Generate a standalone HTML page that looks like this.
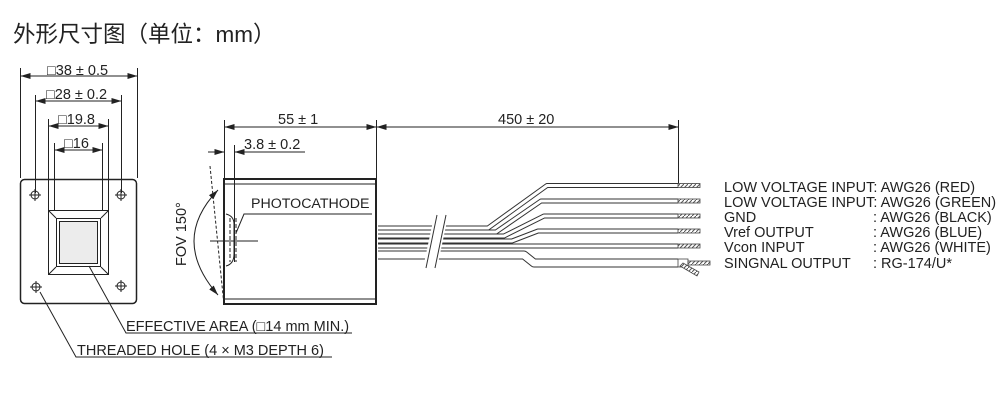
<!DOCTYPE html>
<html><head><meta charset="utf-8"><style>
body{margin:0;background:#fff;width:1000px;height:400px;overflow:hidden}
svg{display:block}
text{font-family:"Liberation Sans",Arial,sans-serif;fill:#222}
</style></head><body>
<svg width="1000" height="400" viewBox="0 0 1000 400" xmlns="http://www.w3.org/2000/svg">
<defs>
<marker id="a" viewBox="0 0 10 6" refX="10" refY="3" markerWidth="10" markerHeight="6" orient="auto-start-reverse" markerUnits="userSpaceOnUse"><path d="M0,0L10,3L0,6z" fill="#222"/></marker>
<pattern id="h" width="4" height="4" patternUnits="userSpaceOnUse"><rect width="4" height="4" fill="#fff"/><path d="M0,4L4,0" stroke="#555" stroke-width="1"/></pattern>
</defs>
<text x="13" y="42" style="font-family:'Liberation Sans','Noto Sans CJK SC',sans-serif;font-size:22.5px">外形尺寸图（单位：mm）</text>

<g stroke="#222" stroke-width="1" fill="none">
<path d="M20.5,68V178M137.5,68V178M35.5,95V193M121.5,95V193M48.5,119V210M108.5,119V210M54.5,143V210M102.5,143V210"/>
<path d="M20.5,76H137.5" marker-start="url(#a)" marker-end="url(#a)"/>
<path d="M35.5,101H121.5" marker-start="url(#a)" marker-end="url(#a)"/>
<path d="M48.5,126H108.5" marker-start="url(#a)" marker-end="url(#a)"/>
<path d="M54.5,150H102.5" marker-start="url(#a)" marker-end="url(#a)"/>
<rect x="20.5" y="179.5" width="116" height="124" rx="4" stroke-width="1.5"/>
<rect x="48.5" y="210.5" width="60" height="64"/>
<path d="M48.5,210.5L56,218M108.5,210.5L101,218M48.5,274.5L56,267M108.5,274.5L101,267"/>
<rect x="56.5" y="218.5" width="44" height="48"/>
<rect x="59.5" y="221.5" width="38" height="42" fill="#ececec"/>
<g>
<circle cx="35" cy="195" r="4"/><path d="M29,195h12M35,189v12"/>
<circle cx="121" cy="195" r="4"/><path d="M115,195h12M121,189v12"/>
<circle cx="36" cy="287" r="4"/><path d="M30,287h12M36,281v12"/>
<circle cx="121" cy="286" r="4"/><path d="M115,286h12M121,280v12"/>
</g>
<path d="M89,266L126,333H352"/>
<path d="M40,292L76,357H332"/>

<path d="M224.5,120V180M376.5,120V180M234.5,145V262M678.5,120V186"/>
<path d="M224.5,127H376.5" marker-start="url(#a)" marker-end="url(#a)"/>
<path d="M376.5,127H678.5" marker-start="url(#a)" marker-end="url(#a)"/>
<path d="M208,152H224.5" marker-end="url(#a)"/>
<path d="M234.5,152H305" marker-start="url(#a)"/>
<rect x="224" y="179" width="152" height="125" stroke-width="2"/>
<path d="M224,184H376M224,299H376"/>
<path d="M210,166L224,305" stroke-dasharray="3,2"/>
<path d="M218,190Q170,240 218,295" marker-start="url(#a)" marker-end="url(#a)"/>
<path d="M226,214q8,2 8,10v30q0,10-8,12"/>
<path d="M230,218v44M236,218v44" stroke-dasharray="4,2"/>
<path d="M210,241H258M234,225V258"/>
<path d="M236,233L244,214H372"/>
</g>

<g fill="none" stroke-linejoin="round">
<g stroke="#333" stroke-width="5">
<path d="M376,228H488L547,185.5H678"/>
<path d="M376,232H496L541,201H678"/>
<path d="M376,236H504L544,216H678"/>
<path d="M376,241H512L538,231H678"/>
<path d="M376,246H678"/>
</g>
<g stroke="#fff" stroke-width="3">
<path d="M376,228H488L547,185.5H678"/>
<path d="M376,232H496L541,201H678"/>
<path d="M376,236H504L544,216H678"/>
<path d="M376,241H512L538,231H678"/>
<path d="M376,246H678"/>
</g>
<path d="M376,255H524L534,263H678" stroke="#333" stroke-width="9"/>
<path d="M376,255H524L534,263H678" stroke="#fff" stroke-width="7"/>
</g>
<rect x="376" y="220" width="2" height="42" fill="#fff"/>
<path d="M376,180V304" stroke="#222" stroke-width="2"/>
<rect x="430" y="215" width="14" height="50" fill="#fff" transform="skewX(-12) translate(50,0)"/>
<path d="M437,215L426,268M446,215L435,268" stroke="#333"/>
<g fill="url(#h)" stroke="#444" stroke-width="0.8">
<rect x="678" y="183.5" width="22" height="4"/>
<rect x="678" y="199" width="22" height="4"/>
<rect x="678" y="214" width="22" height="4"/>
<rect x="678" y="229" width="22" height="4"/>
<rect x="678" y="244" width="22" height="4"/>
<rect x="678" y="259" width="10" height="8" fill="#fff"/>
<rect x="688" y="261" width="22" height="4"/>
<path d="M680,266L697,276L699,272L683,263z"/>
</g>

<g font-size="14.5">
<text x="47" y="75">□38 ± 0.5</text>
<text x="46" y="99">□28 ± 0.2</text>
<text x="58" y="124">□19.8</text>
<text x="64" y="148">□16</text>
<text x="126" y="331">EFFECTIVE AREA (□14 mm MIN.)</text>
<text x="77" y="355">THREADED HOLE (4 × M3 DEPTH 6)</text>
<text x="278" y="124">55 ± 1</text>
<text x="244" y="149">3.8  ± 0.2</text>
<text x="498" y="124">450 ± 20</text>
<text x="251" y="208" font-size="14.2">PHOTOCATHODE</text>
<text transform="translate(186,266) rotate(-90)">FOV 150°</text>
<text x="724" y="192">LOW VOLTAGE INPUT: AWG26 (RED)</text>
<text x="724" y="207">LOW VOLTAGE INPUT: AWG26 (GREEN)</text>
<text x="724" y="222">GND</text><text x="873" y="222">: AWG26 (BLACK)</text>
<text x="724" y="237">Vref OUTPUT</text><text x="873" y="237">: AWG26 (BLUE)</text>
<text x="724" y="252">Vcon INPUT</text><text x="873" y="252">: AWG26 (WHITE)</text>
<text x="724" y="268">SINGNAL OUTPUT</text><text x="873" y="268">: RG-174/U*</text>
</g>
</svg>
</body></html>
